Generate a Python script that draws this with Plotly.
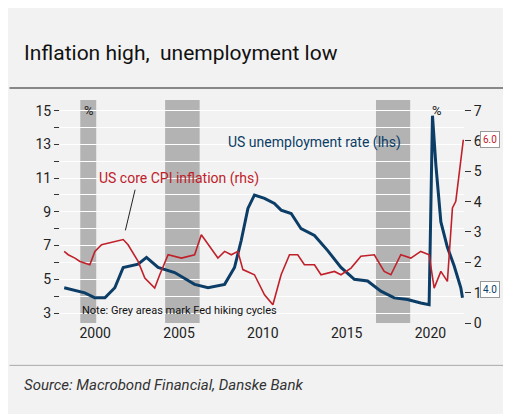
import plotly.graph_objects as go

unemp_x = [1998.15,1999.38,1999.98,2000.58,2001.17,2001.67,2002.56,2003.06,2003.75,2004.74,2005.93,2006.73,2007.72,2008.31,2008.71,2009.11,2009.5,2010.1,2010.69,2011.09,2011.69,2012.28,2013.08,2013.87,2014.66,2015.46,2016.25,2017.04,2017.84,2018.63,2019.42,2019.92,2020.12,2020.32,2020.62,2021.01,2021.41,2021.81,2021.91]
unemp_y = [4.5,4.2,3.9,3.9,4.5,5.7,5.9,6.3,5.7,5.4,4.7,4.5,4.7,5.7,7.3,9.2,10.0,9.8,9.5,9.1,8.9,8.0,7.6,6.7,5.7,5.0,4.9,4.3,3.9,3.8,3.6,3.5,14.7,11.8,8.4,6.9,5.8,4.5,3.9]
cpi_x = [1998.15,1998.39,1998.79,1999.09,1999.68,1999.98,2000.38,2001.17,2001.67,2001.96,2002.56,2002.96,2003.55,2003.85,2004.35,2005.14,2005.93,2006.33,2006.92,2007.32,2007.72,2008.12,2008.51,2008.81,2009.5,2010.1,2010.6,2011.09,2011.59,2012.08,2012.48,2013.08,2013.47,2014.27,2014.66,2015.26,2015.85,2016.65,2017.24,2017.64,2018.23,2018.83,2019.42,2019.92,2020.22,2020.62,2021.01,2021.31,2021.51,2021.81,2021.96]
cpi_y = [2.36,2.25,2.14,2.03,1.92,2.36,2.58,2.69,2.75,2.58,2.03,1.48,1.15,1.59,2.25,2.14,2.25,2.91,2.47,2.14,2.36,2.25,2.36,1.76,1.59,0.93,0.60,1.59,2.25,2.25,1.92,1.92,1.59,1.70,1.59,1.81,2.20,2.25,1.70,1.59,2.25,2.14,2.36,2.25,1.15,1.70,1.37,3.79,4.01,5.33,6.04]
hike_cycles = [(1999.11, 2000.06), (2004.17, 2006.23), (2016.75, 2018.79)]
left_ticks = list(range(3, 16))
right_ticks = list(range(0, 8))
year_ticks = [2000, 2005, 2010, 2015, 2020]

BLUE = "#0b3d66"
RED = "#c0202a"
BG = "#f2f2f2"
FONT = "Roboto"
YL = [2.41, 15.63]

fig = go.Figure()
for a, b in hike_cycles:
    fig.add_vrect(x0=a, x1=b, fillcolor="#b3b3b3", opacity=1, line_width=0, layer="below")

fig.add_trace(go.Scatter(x=cpi_x, y=cpi_y, yaxis="y2", mode="lines",
                         line=dict(color=RED, width=1.6), showlegend=False))
fig.add_trace(go.Scatter(x=unemp_x, y=unemp_y, mode="lines",
                         line=dict(color=BLUE, width=3), showlegend=False))

fig.update_layout(
    width=511, height=414,
    paper_bgcolor=BG, plot_bgcolor=BG,
    margin=dict(l=52, r=55, t=92, b=99),
    font=dict(family=FONT, size=14, color="#222"),
    xaxis=dict(range=[1997.9, 2022.0], tickvals=year_ticks, ticktext=[str(v) for v in year_ticks],
               showgrid=False, zeroline=False, ticks="", tickfont=dict(size=14)),
    yaxis=dict(range=YL, tickvals=left_ticks,
               ticktext=[str(v) if v % 2 == 1 else "" for v in left_ticks],
               ticks="outside", ticklen=5, tickcolor="#333", showgrid=True, gridcolor="white",
               zeroline=False, tickfont=dict(size=14)),
    yaxis2=dict(range=[0, 7.35], overlaying="y", side="right", tickvals=right_ticks,
                ticks="outside", ticklen=6, tickcolor="#333", showgrid=False, zeroline=False,
                tickfont=dict(size=14)),
)

anns = [
    dict(x=-0.095, y=1.21, xref="paper", yref="paper", text="Inflation high,  unemployment low",
         showarrow=False, xanchor="left", yanchor="middle", font=dict(size=21, color="#111")),
    dict(x=-0.095, y=-0.28, xref="paper", yref="paper", text="<i>Source: Macrobond Financial, Danske Bank</i>",
         showarrow=False, xanchor="left", yanchor="middle", font=dict(size=15, color="#333")),
    dict(x=1999.6, y=15.0, text="%", showarrow=False, font=dict(size=13)),
    dict(x=2020.4, y=15.0, text="%", showarrow=False, font=dict(size=13)),
    dict(x=2013.1, y=13.1, text="US unemployment rate (lhs)", showarrow=False, font=dict(size=14, color=BLUE)),
    dict(x=2005.0, y=11.0, text="US core CPI inflation (rhs)", showarrow=False, font=dict(size=14, color=RED)),
    dict(x=2001.8, y=7.9, ax=2002.4, ay=10.4, axref="x", ayref="y", text="", showarrow=True,
         arrowhead=0, arrowwidth=1, arrowcolor="#222"),
    dict(x=1999.1, y=3.15, text="Note: Grey areas mark Fed hiking cycles", showarrow=False,
         xanchor="left", font=dict(size=11, color="#111")),
    dict(x=1.04, y=6.04, xref="paper", yref="y2", text="6.0", showarrow=False, xanchor="left",
         font=dict(size=10, color=RED), bordercolor="#999", borderwidth=1, bgcolor="white", borderpad=2),
    dict(x=1.04, y=(3.9 - YL[0]) / (YL[1] - YL[0]), xref="paper", yref="paper", text="4.0", showarrow=False,
         xanchor="left", font=dict(size=10, color=BLUE), bordercolor="#999", borderwidth=1, bgcolor="white", borderpad=2),
]
fig.update_layout(annotations=anns)
fig.add_shape(type="line", xref="paper", yref="paper", x0=-0.125, x1=1.13, y0=1.054, y1=1.054,
              line=dict(color="#888", width=2))
fig.add_shape(type="line", xref="paper", yref="paper", x0=-0.125, x1=1.13, y0=-0.19, y1=-0.19,
              line=dict(color="#aaa", width=1))
fig.write_html("out.html")
